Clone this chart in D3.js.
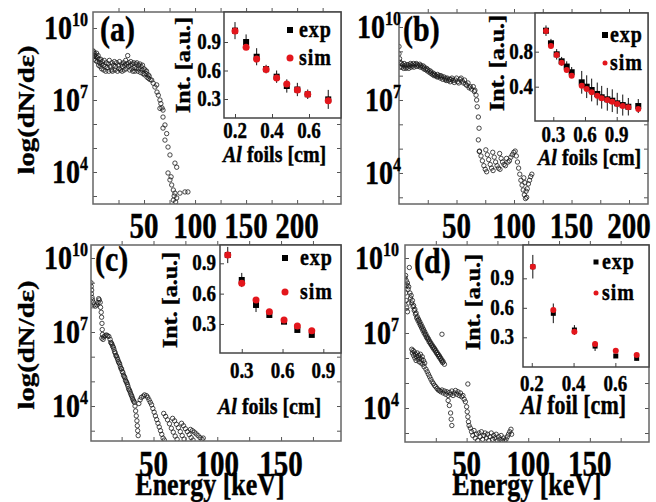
<!DOCTYPE html>
<html><head><meta charset="utf-8">
<script src="https://cdn.jsdelivr.net/npm/d3@7"></script>
<style>
body{margin:0;background:#fff}
text{font-family:"Liberation Serif","Times New Roman",serif;font-weight:bold;fill:#000}
</style>
</head><body>
<svg id="c" width="656" height="502"></svg>
<script>
// ---------------- DATA ----------------
// main spectra: [energy keV, log10(dN/dE)]
const specA = [[0,9.05],[0,8.8],[0.5,8.95],[1,9.0],[1,8.7],[1.5,8.85],[2,8.9],[2.5,8.65],[3,8.8],[3.5,8.95],[4,8.6],[4.5,8.75],[5,8.85],[5.5,8.45],[6,8.7],[6.5,8.55],[7,8.4],[7.5,8.7],[8,8.5],[8.5,8.3],[9,8.6],[10,8.45],[10.5,8.25],[11,8.65],[12,8.4],[12.5,8.2],[13,8.55],[14,8.35],[15,8.5],[15.5,8.2],[16,8.65],[17,8.4],[18,8.25],[18.5,8.55],[19,8.2],[20,8.45],[21,8.6],[21.5,8.25],[22,8.4],[23,8.55],[24,8.2],[25,8.45],[25.5,8.3],[26,8.6],[27,8.25],[28,8.5],[28.5,8.2],[29,8.4],[30,8.55],[30.5,8.25],[31,8.45],[32,8.65],[32.5,8.3],[33,8.5],[34,8.85],[34.5,8.4],[35,8.55],[36,8.25],[36.5,8.45],[37,8.6],[38,8.3],[38.5,8.5],[39,8.2],[40,8.55],[40.5,8.35],[41,8.2],[42,8.5],[42.5,8.3],[43,8.55],[44,8.2],[44.5,8.45],[45,8.3],[46,8.5],[46.5,8.15],[47,8.4],[48,8.25],[48.5,8.45],[49,8.1],[50,8.3],[50.5,8.05],[51,8.25],[52,8.1],[52.5,8.2],[53,7.95],[54,8.05],[54.5,7.9],[55,8.0],[56,7.85],[57.5,7.83],[59,7.7],[60.7,7.54],[62.4,7.63],[62.7,7.33],[64,7.2],[65.6,7.0],[65.6,6.65],[66.5,6.85],[67.6,6.67],[68.6,6.58],[68.6,6.29],[70.5,5.96],[68.6,5.83],[72.2,5.6],[70.5,5.33],[73.5,5.04],[75.4,4.71],[80.3,4.37],[82,4.2],[73.5,3.96],[75.4,3.67],[77.1,3.46],[78.7,3.25],[80.3,3.12],[82,2.92],[78.7,2.83],[85.2,3.12],[90.1,3.17],[93,3.17],[76.5,3.8],[79.5,3.0],[81,2.75]];

const specB = [[0,9.2],[0,8.9],[0.5,8.7],[1,8.55],[1,8.35],[2,8.5],[2.5,8.35],[3,8.45],[4,8.3],[4.5,8.5],[5,8.4],[6,8.3],[6.5,8.45],[7,8.35],[8,8.45],[8.5,8.3],[9,8.4],[10,8.5],[10.5,8.35],[11,8.45],[12,8.4],[12.5,8.5],[13,8.35],[14,8.45],[15,8.5],[15.5,8.38],[16,8.45],[17,8.4],[18,8.47],[18.5,8.35],[19,8.42],[20,8.35],[21,8.4],[21.5,8.28],[22,8.35],[23,8.25],[24,8.3],[24.5,8.2],[25,8.25],[26,8.15],[27,8.2],[27.5,8.1],[28,8.15],[29,8.05],[30,8.1],[30.5,8.0],[31,8.05],[32,8.0],[33,7.95],[33.5,8.05],[34,7.95],[35,8.0],[36,7.9],[36.5,8.0],[37,7.95],[38,7.85],[39,7.95],[40,7.85],[40.5,7.9],[41,7.8],[42,7.9],[43,7.8],[44,7.85],[44.5,7.75],[45,7.85],[46,7.9],[47,7.8],[48,7.72],[49,7.82],[50,7.9],[51,7.75],[52,7.7],[53,7.85],[54,7.9],[55,7.78],[56,7.7],[57,7.82],[58,7.65],[59,7.6],[60,7.7],[61,7.5],[62,7.55],[63,7.45],[64.6,7.55],[65.5,7.35],[66,7.4],[67,7.2],[67.5,7.0],[68,6.72],[69,6.3],[69.6,5.84],[69,5.36],[69.8,4.88],
[70,4.9],[71.3,4.7],[72.5,4.5],[73.8,4.3],[75,4.15],[76.2,4.05],
[75.5,4.95],[76.8,4.75],[78,4.55],[79.3,4.35],[80.5,4.2],[81.8,4.1],
[81.5,4.85],[82.8,4.65],[84,4.45],[85.3,4.3],[86.5,4.2],[87.8,4.15],
[87.5,4.8],[88.8,4.6],[90,4.45],[91.3,4.35],[92.5,4.3],
[93.5,4.6],[94.8,4.45],[96,4.5],[97.3,4.65],[98.5,4.75],[99.8,4.85],[101,4.9],
[102,4.7],[103,4.45],[104,4.2],[105,3.95],[106,3.7],[107,3.5],[108,3.3],[109,3.1],[110,2.95],[111,3.0],[110.5,3.25],[111.5,3.35],[112.5,3.55],[113.5,3.7],[114.5,3.85],[115.5,3.95],[109.5,3.6],[108.5,3.8]];

const specC = [[1,9.0],[1.2,8.85],[1.5,8.7],[1.3,8.55],[1.8,8.4],[2.2,8.3],[2.8,8.2],[3.5,8.1],[4.5,8.05],[5.5,8.1],[6.5,8.2],[7,8.35],[7.5,8.3],[8.2,8.2],[8.5,8.0],[9,7.8],[9.3,7.6],[9.6,7.35],[9.8,7.1],[10,6.9],[9.5,6.75],[10.5,6.7],[11,6.8],[12,6.85],
[13,6.88],[14,6.85],[15,6.82],[16,6.7],[17,6.55],[17.5,6.5],[18,6.42],[19,6.3],[19.5,6.2],[20,6.15],[21,6.02],[21.5,5.95],[22,5.88],[23,5.75],[23.5,5.7],[24,5.6],[25,5.5],[25.5,5.4],[26,5.35],[27,5.2],[27.5,5.15],[28,5.05],[29,4.95],[29.5,4.88],[30,4.8],[31,4.65],[31.5,4.6],[32,4.52],[33,4.4],[33.5,4.32],[34,4.25],[35,4.15],[35.5,4.0],[36,3.8],[36.5,3.6],[37,3.4],[37.3,3.2],[37.6,3.0],[38,2.8],
[16.5,6.58],[18.5,6.38],[20.5,6.05],[22.5,5.8],[24.5,5.52],[26.5,5.25],[28.5,5.0],[30.5,4.7],[32.5,4.45],[34.5,4.2],
[38.5,4.1],[39.5,4.25],[40.5,4.35],[42,4.4],[43,4.45],[44.5,4.42],[45.5,4.35],[46.5,4.25],[47.5,4.15],[48.5,4.05],[49.5,3.9],[50.5,3.75],[51.5,3.6],[52.5,3.45],[53.5,3.3],[54.5,3.15],[55.5,3.0],[56.5,2.85],[57.5,2.7],[58.5,2.62],
[58,3.7],[59.5,3.58],[61,3.44],[62.5,3.28],[64,3.1],[65.5,2.94],[67,2.78],[68.5,2.65],
[65,3.5],[66.5,3.4],[68,3.26],[69.5,3.12],[71,2.96],[72.5,2.8],[74,2.66],
[72,3.3],[73.5,3.2],[75,3.08],[76.5,2.96],[78,2.84],[79.5,2.72],[81,2.62],
[79,3.05],[80.5,3.0],[82,2.94],[83.5,2.87],[85,2.8],[86.5,2.72],[88,2.65],[89,2.7]];

const specD = [[0,9.2],[0,8.9],[0.5,9.3],[0.5,8.6],[1,9.1],[1,8.3],[1.5,8.9],[1.5,8.0],[2,9.0],[2,7.85],[2.5,8.75],[3,8.85],[3,8.2],[3.5,9.62],[4,8.6],[4.5,8.4],[5,8.5],[5.5,8.2],[6,8.3],[6.5,8.05],[7,8.1],[7.5,7.9],[8,7.95],[8.5,7.75],[9,7.8],[9.5,7.6],[10,7.65],[10.5,7.5],[11,7.55],[11.5,7.4],[12,7.45],[12.5,7.3],[13,7.35],[13.5,7.2],[14,7.25],[14.5,7.1],[15,7.15],[15.5,7.0],[16,7.05],[16.5,6.92],[17,6.95],[17.5,6.82],[18,6.85],[18.5,6.75],[19,6.77],[19.5,6.65],[20,6.68],[20.5,6.58],[21,6.6],[21.5,6.5],[22,6.52],[22.5,6.42],[23,6.45],[23.5,6.35],[24,6.38],[24.5,6.28],[25,6.3],[25.5,6.2],[26,6.22],[26.5,6.13],[27,6.15],[27.5,6.05],[28,6.08],[28.5,5.98],[29,6.0],[29.5,5.9],[30,5.92],[30.5,5.82],[31,5.85],[32,5.75],[30,6.95],[51,4.96],
[5.5,6.35],[6,6.2],[6.5,6.3],[7,6.1],[7.5,6.25],[8,6.0],[8.5,6.15],[9,5.9],[9.5,6.05],[10,6.2],[10.5,5.95],[11,6.1],[11.5,5.85],[12,6.0],[12.5,6.15],[13,5.8],[13.5,5.95],[14,6.05],[14.5,5.75],[15,5.9],[15.5,5.65],[16,5.8],[17,5.55],[18,5.45],[19,5.35],[20,5.25],[21,5.15],[22,5.05],[23,4.98],[24,4.9],[25,4.85],[26,4.78],[27,4.72],[28,4.7],[29,4.65],[30,4.72],[31,4.6],[32,4.68],[33,4.55],[34,4.65],[35,4.5],[36,4.62],[37,4.55],[38,4.68],[39,4.5],[40,4.6],[41,4.7],[42,4.55],[43,4.65],[44,4.5],[45,4.6],[46,4.45],[47,4.5],[48,4.35],[49,4.25],[50,4.05],[50.5,3.85],[51,3.65],[51.5,3.45],[52,3.3],
[35,4.3],[36,4.1],[37,3.8],[37.5,3.55],[38,3.3],
[53,3.2],[54,3.05],[55,2.9],[56,3.1],[57,2.8],[58,2.95],[59,2.7],[60,3.0],[61,2.85],[62,3.05],[63,2.75],[64,2.9],[65,3.0],[66,2.8],[67,2.95],[68,2.7],[69,2.85],[70,3.0],[71,2.75],[72,2.9],[73,2.8],[74,2.95],[75,2.7],[76,2.85],[77,2.75],[78,2.9],[79,2.7],[80,2.8],[81,2.68],[82,2.75],[83,2.85],[84,2.95],[85,3.05],[86,3.15],[86.5,2.95]];

// main tick labels
const mainXLabelsAB = [50,100,150,200];
const mainXLabelsCD = [50,100,150];
const mainYExponents = [4,7,10];

// insets: Al foil thickness [cm] vs intensity [a.u.]
const insetAx   = [0.2,0.26,0.317,0.368,0.425,0.48,0.537,0.593,0.704];
const insetAexp = [1.02,0.90,0.745,0.615,0.535,0.437,0.40,0.35,0.296];
const insetAsim = [1.016,0.844,0.72,0.61,0.52,0.458,0.395,0.35,0.282];
const insetAerr = [0.09,0.08,0.09,0.045,0.065,0.07,0.07,0.05,0.1];

const insetBx   = [0.231,0.278,0.332,0.379,0.427,0.474,0.569,0.616,0.663,0.716,0.758,0.811,0.858,0.905,0.957,1.01,1.104];
const insetBexp = [1.04,0.896,0.77,0.69,0.63,0.565,0.45,0.40,0.362,0.317,0.279,0.256,0.24,0.21,0.19,0.171,0.179];
const insetBsim = [1.037,0.865,0.762,0.674,0.59,0.526,0.41,0.374,0.336,0.297,0.267,0.248,0.229,0.202,0.179,0.164,0.145];
const insetBerr = [0.06,0.05,0.06,0.05,0.06,0.06,0.13,0.13,0.13,0.13,0.13,0.13,0.13,0.12,0.12,0.1,0.08];

const insetCx   = [0.197,0.3,0.405,0.503,0.611,0.709,0.815];
const insetCexp = [0.982,0.735,0.488,0.389,0.323,0.241,0.192];
const insetCsim = [0.982,0.702,0.537,0.422,0.34,0.28,0.234];
const insetCerr = [0.08,0.07,0.07,0.02,0.02,0.02,0.02];

const insetDx   = [0.205,0.303,0.404,0.503,0.602,0.702];
const insetDexp = [1.018,0.544,0.374,0.211,0.11,0.086];
const insetDsim = [1.018,0.578,0.357,0.232,0.164,0.12];
const insetDerr = [0.12,0.1,0.05,0.05,0.02,0.02];

const insetXTicksA = [0.2,0.4,0.6], insetYTicksA = [0.3,0.6,0.9];
const insetXTicksB = [0.3,0.6,0.9], insetYTicksB = [0.4,0.8];
const insetXTicksC = [0.3,0.6,0.9], insetYTicksC = [0.3,0.6,0.9];
const insetXTicksD = [0.2,0.4,0.6], insetYTicksD = [0.3,0.6,0.9];

// ---------------- DRAWING ----------------
const svg = d3.select("#c");
const SY = 1.2;
const FONT = "'Liberation Serif','Times New Roman',serif";

function txt(g, x, y, parts, o = {}) {
  const t = g.append("text")
    .attr("transform", `translate(${x},${y}) scale(1,${o.sy || SY})` + (o.rot ? ` rotate(${o.rot})` : ""))
    .attr("font-family", FONT).attr("font-weight", "bold")
    .attr("font-size", o.fs || 20)
    .attr("stroke", "#000").attr("stroke-width", 0.35)
    .attr("text-anchor", o.anchor || "start");
  if (o.ls) t.attr("letter-spacing", o.ls);
  if (typeof parts === "string") parts = [{t: parts}];
  parts.forEach(p => {
    const s = t.append("tspan").text(p.t);
    if (p.fs) s.attr("font-size", p.fs);
    if (p.dy) s.attr("dy", p.dy);
    if (p.it) s.attr("font-style", "italic");
  });
  return t;
}

function mainPanel(P) {
  const g = svg.append("g");
  const x = d3.scaleLinear().domain(P.xd).range([P.x0, P.x1]);
  const y = d3.scaleLinear().domain(P.yd).range([P.y1, P.y0]);
  const id = "clip" + P.name;
  svg.append("clipPath").attr("id", id).append("rect")
    .attr("x", P.x0).attr("y", P.y0).attr("width", P.x1 - P.x0).attr("height", P.y1 - P.y0);
  g.append("g").attr("clip-path", `url(#${id})`)
    .selectAll("circle").data(P.data).join("circle")
    .attr("cx", d => x(d[0])).attr("cy", d => y(d[1])).attr("r", 2.2)
    .attr("fill", "none").attr("stroke", "#1a1a1a").attr("stroke-width", 0.8);

  const xMinor = d3.range(25, P.xd[1], 25);
  const yT = d3.range(Math.ceil(P.yd[0]), P.yd[1], 1);
  const rm = a => { a.select(".domain").remove(); a.attr("color", "#555"); };
  g.append("g").attr("transform", `translate(0,${P.y1})`)
    .call(d3.axisBottom(x).tickValues(xMinor).tickSize(-4).tickFormat("")).call(rm);
  g.append("g").attr("transform", `translate(0,${P.y0})`)
    .call(d3.axisTop(x).tickValues(xMinor).tickSize(4).tickFormat("")).call(rm);
  g.append("g").attr("transform", `translate(${P.x0},0)`)
    .call(d3.axisLeft(y).tickValues(yT).tickSize(-4).tickFormat("")).call(rm);
  g.append("g").attr("transform", `translate(${P.x1},0)`)
    .call(d3.axisRight(y).tickValues(yT).tickSize(-4).tickFormat("")).call(rm);
  g.append("rect").attr("x", P.x0).attr("y", P.y0).attr("width", P.x1 - P.x0).attr("height", P.y1 - P.y0)
    .attr("fill", "none").attr("stroke", "#666").attr("stroke-width", 1.5);

  P.xLabels.forEach(v => txt(g, x(v), P.xlabY, String(v), {fs: 29, anchor: "middle"}));
  mainYExponents.forEach(e => txt(g, P.ylabX, y(e) + 11,
    [{t: "10", fs: 28}, {t: String(e), fs: 16, dy: -11}], {anchor: "end"}));
  txt(g, P.labX, P.labY, P.label, {fs: 30});
  if (P.ytitle) txt(g, 34, (P.y0 + P.y1) / 2 + 2, "log(dN/d\u03b5)", {fs: 24, anchor: "middle", rot: -90});
  if (P.xtitle) txt(g, P.xtitleX, 495, "Energy [keV]", {fs: 26, anchor: "middle"});
}

function inset(I) {
  const g = svg.append("g");
  g.append("rect").attr("x", I.x0).attr("y", I.y0).attr("width", I.x1 - I.x0).attr("height", I.y1 - I.y0)
    .attr("fill", "#fff").attr("stroke", "#444").attr("stroke-width", 1.5);
  const x = d3.scaleLinear().domain(I.xd).range([I.x0, I.x1]);
  const y = d3.scaleLinear().domain(I.yd).range([I.y1, I.y0]);
  const rm = a => { a.select(".domain").remove(); a.attr("color", "#444"); };
  g.append("g").attr("transform", `translate(0,${I.y1})`)
    .call(d3.axisBottom(x).tickValues(I.xt).tickSize(-4).tickFormat("")).call(rm);
  g.append("g").attr("transform", `translate(${I.x0},0)`)
    .call(d3.axisLeft(y).tickValues(I.yt).tickSize(-4).tickFormat("")).call(rm);

  const idx = d3.range(I.xs.length);
  g.selectAll(".eb").data(idx).join("line")
    .attr("x1", i => x(I.xs[i])).attr("x2", i => x(I.xs[i]))
    .attr("y1", i => y(I.exp[i] + I.err[i])).attr("y2", i => y(I.exp[i] - I.err[i]))
    .attr("stroke", "#111").attr("stroke-width", 1);
  g.selectAll(".ex").data(idx).join("rect")
    .attr("x", i => x(I.xs[i]) - I.sq / 2).attr("y", i => y(I.exp[i]) - I.sq / 2)
    .attr("width", I.sq).attr("height", I.sq).attr("fill", "#000");
  g.selectAll(".sm").data(idx).join("circle")
    .attr("cx", i => x(I.xs[i])).attr("cy", i => y(I.sim[i])).attr("r", I.sr).attr("fill", "#e3161c");

  I.xt.forEach(v => txt(g, x(v), I.xtY, String(v), {fs: 19, anchor: "middle"}));
  I.yt.forEach(v => txt(g, I.ytX, y(v) + 7, String(v), {fs: 19, anchor: "end"}));
  txt(g, I.ytitleX, I.ytitleY, "Int. [a.u.]", {fs: 20, anchor: "middle", rot: -90});
  txt(g, I.xtitleX, I.xtitleY, [{t: "Al", it: true}, {t: I.foilText}], {fs: I.xtFs || 20});
  // legend
  g.append("rect").attr("x", I.lx - I.lsq / 2).attr("y", I.ly1 - I.lsq / 2)
    .attr("width", I.lsq).attr("height", I.lsq).attr("fill", "#000");
  txt(g, I.ltx, I.ly1 + 7, "exp", {fs: 20, ls: 1});
  g.append("circle").attr("cx", I.lx).attr("cy", I.ly2).attr("r", I.lr).attr("fill", "#e3161c");
  txt(g, I.ltx, I.ly2 + 7, "sim", {fs: 20, ls: 1});
}

mainPanel({name: "a", data: specA, x0: 93, x1: 341, y0: 12, y1: 204, xd: [0, 243], yd: [2.667, 10.667],
  xLabels: mainXLabelsAB, xlabY: 238, ylabX: 88, label: "(a)", labX: 100, labY: 41, ytitle: true});
mainPanel({name: "b", data: specB, x0: 399, x1: 648, y0: 13, y1: 204, xd: [0, 216.5], yd: [2.725, 10.576],
  xLabels: mainXLabelsAB, xlabY: 238, ylabX: 401, label: "(b)", labX: 403, labY: 41});
mainPanel({name: "c", data: specC, x0: 91, x1: 341, y0: 245, y1: 441, xd: [1, 197], yd: [2.582, 10.527],
  xLabels: mainXLabelsCD, xlabY: 476, ylabX: 88, label: "(c)", labX: 95, labY: 271, ytitle: true, xtitle: true, xtitleX: 210});
mainPanel({name: "d", data: specD, x0: 405, x1: 649, y0: 245, y1: 442, xd: [0, 198], yd: [2.64, 10.52],
  xLabels: mainXLabelsCD, xlabY: 476, ylabX: 399, label: "(d)", labX: 414, labY: 273, xtitle: true, xtitleX: 527});

inset({x0: 224, x1: 341, y0: 12, y1: 118, xd: [0.1405, 0.773], yd: [0.1, 1.216],
  xs: insetAx, exp: insetAexp, sim: insetAsim, err: insetAerr, sq: 6, sr: 3.5,
  xt: insetXTicksA, yt: insetYTicksA, xtY: 138, ytX: 221, ytitleX: 190, ytitleY: 65,
  xtitleX: 223, xtitleY: 162, foilText: " foils [cm]",
  lx: 290, ly1: 30, ly2: 58, lsq: 6, lr: 3.5, ltx: 299});
inset({x0: 535, x1: 648, y0: 13, y1: 121, xd: [0.127, 1.196], yd: [0.008, 1.242],
  xs: insetBx, exp: insetBexp, sim: insetBsim, err: insetBerr, sq: 6, sr: 3,
  xt: insetXTicksB, yt: insetYTicksB, xtY: 142, ytX: 533, ytitleX: 504, ytitleY: 63,
  xtitleX: 538, xtitleY: 165, foilText: " foils [cm]",
  lx: 605, ly1: 35, ly2: 63, lsq: 6, lr: 2.5, ltx: 610});
inset({x0: 220, x1: 341, y0: 245, y1: 353, xd: [0.14, 1.03], yd: [0.013, 1.081],
  xs: insetCx, exp: insetCexp, sim: insetCsim, err: insetCerr, sq: 6, sr: 3.5,
  xt: insetXTicksC, yt: insetYTicksC, xtY: 378, ytX: 216, ytitleX: 177, ytitleY: 300,
  xtitleX: 218, xtitleY: 414, foilText: " foils [cm]",
  lx: 285, ly1: 258, ly2: 292, lsq: 6, lr: 3.5, ltx: 300});
inset({x0: 523, x1: 649, y0: 245, y1: 367, xd: [0.158, 0.761], yd: [-0.002, 1.239],
  xs: insetDx, exp: insetDexp, sim: insetDsim, err: insetDerr, sq: 5, sr: 3,
  xt: insetXTicksD, yt: insetYTicksD, xtY: 391, ytX: 514, ytitleX: 480, ytitleY: 302,
  xtitleX: 521, xtitleY: 414, xtFs: 22, foilText: "  foil [cm]",
  lx: 596, ly1: 262, ly2: 293, lsq: 5, lr: 2.5, ltx: 602});
</script>
</body></html>
